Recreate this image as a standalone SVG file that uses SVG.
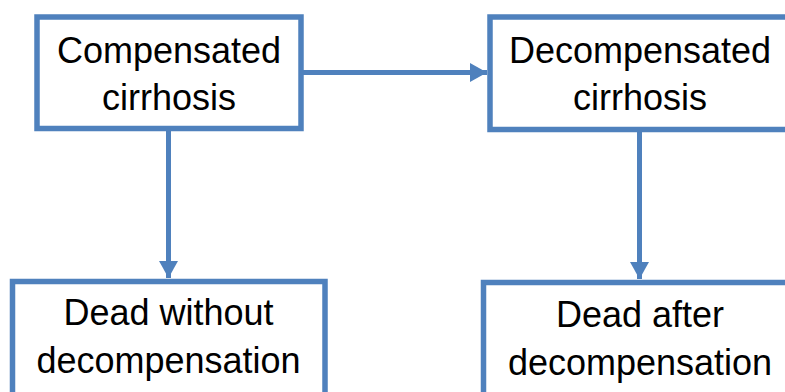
<svg xmlns="http://www.w3.org/2000/svg" width="785" height="392" viewBox="0 0 785 392">
<defs>
<style>
.box{fill:#fff;stroke:#4F81BD;stroke-width:5.5}
.lbl{font-family:"Liberation Sans",Arial,sans-serif;font-size:36px;fill:#000;text-anchor:middle}
.conn{stroke:#4F81BD;stroke-width:5;fill:none}
</style>
<marker id="ah" viewBox="0 0 17 19" refX="17" refY="9.5" markerWidth="17" markerHeight="19" markerUnits="userSpaceOnUse" orient="auto">
<path d="M0,0 L17,9.5 L0,19 Z" fill="#4F81BD"/>
</marker>
</defs>
<rect width="785" height="392" fill="#fff"/>
<g id="connectors">
<line class="conn" x1="301" y1="72.5" x2="487" y2="72.5" marker-end="url(#ah)"/>
<line class="conn" x1="168.5" y1="128.5" x2="168.5" y2="278" marker-end="url(#ah)"/>
<line class="conn" x1="639.5" y1="129.5" x2="639.5" y2="279" marker-end="url(#ah)"/>
</g>
<g id="compensated">
<rect class="box" x="37" y="17" width="264" height="111.5"/>
<text class="lbl" x="169" y="63">Compensated</text>
<text class="lbl" x="169" y="110">cirrhosis</text>
</g>
<g id="decompensated">
<rect class="box" x="490" y="17" width="300" height="112.5"/>
<text class="lbl" x="640" y="63">Decompensated</text>
<text class="lbl" x="640" y="110">cirrhosis</text>
</g>
<g id="dead-without">
<rect class="box" x="12.5" y="281.5" width="312.5" height="120"/>
<text class="lbl" x="168.5" y="325">Dead without</text>
<text class="lbl" x="168.5" y="373">decompensation</text>
</g>
<g id="dead-after">
<rect class="box" x="483.5" y="282.5" width="310" height="120"/>
<text class="lbl" x="640" y="327">Dead after</text>
<text class="lbl" x="640" y="375">decompensation</text>
</g>
</svg>
